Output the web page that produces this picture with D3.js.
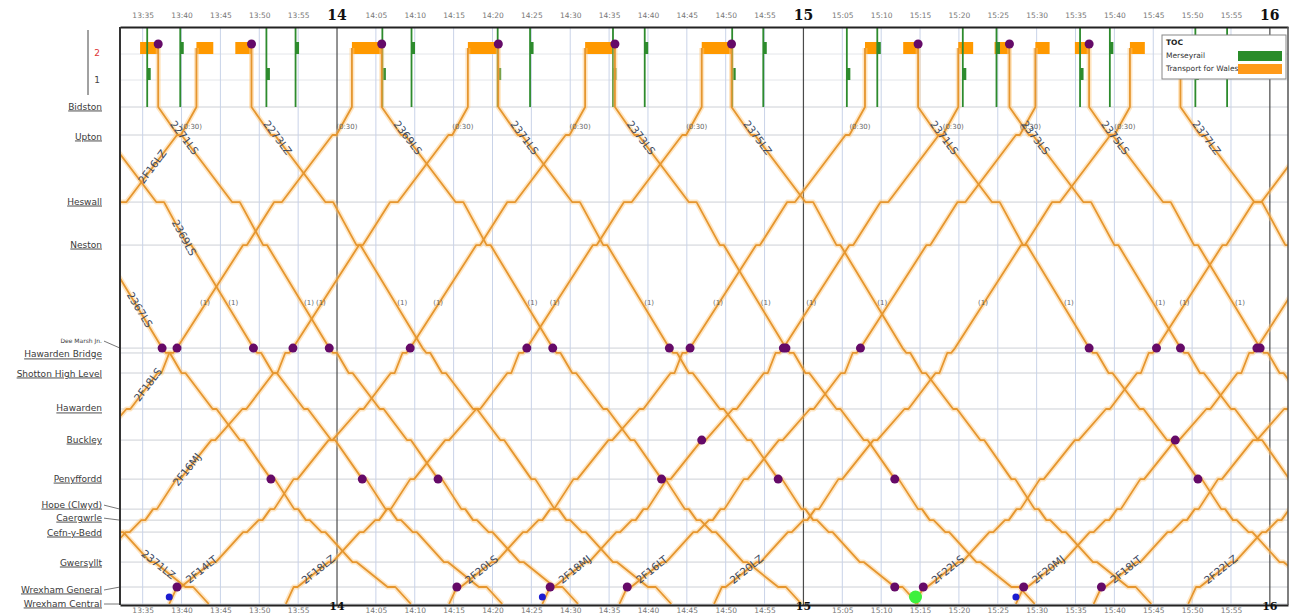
<!DOCTYPE html>
<html lang="en">
<head>
<meta charset="UTF-8">
<title>Bidston - Wrexham Central train graph</title>
<script src="https://d3js.org/d3.v7.min.js"></script>
<style>
    body{margin:0;background:#fff;}
    svg{display:block;font-family:"DejaVu Sans",sans-serif;}
    .axis text{font-size:7.5px;fill:#777;font-family:"DejaVu Sans",sans-serif;}
    .axis .domain{stroke:#222;stroke-width:2;}
    .hour{font-family:"DejaVu Serif",serif;font-weight:bold;font-size:14px;fill:#111;}
    .stn{font-size:9px;fill:#3a3a3a;text-decoration:underline;}
    .hc{font-size:10.5px;fill:#3b4a63;}
    .note{font-size:7px;fill:#666;}
</style>
</head>
<body>
<div id="root"></div>
<script>
    // ---------------- data ----------------
    let stations = ["Bidston","Upton","Heswall","Neston","Dee Marsh Jn.","Hawarden Bridge","Shotton High Level","Hawarden",
        "Buckley","Penyffordd","Hope (Clwyd)","Caergwrle","Cefn-y-Bedd","Gwersyllt","Wrexham General","Wrexham Central"]
    let stationMiles = [0, 1.55, 5.26, 7.64, 13.34, 13.61, 14.72, 16.71, 18.43, 20.59, 22.25, 22.86, 23.52, 25.18, 26.56, 27.5]

    // running times (minutes) per station, same order as stations
    let downArr = [0, 2.5, 9.5, 13.5, 22, 22.5, 24.5, 28.5, 32, 36, 39, 40.5, 42.5, 46.5, 51, 54]
    let downDep = [0, 3, 10.5, 14, 22, 23, 25, 29, 32.5, 36.5, 39.5, 41, 43, 47, 52, 54]
    let upArr = [53.5, 51, 43.5, 39.5, 31, 30, 28.5, 24.5, 20.5, 16, 13, 11.5, 9.5, 5.5, 1, 0]
    let upDep = [53.5, 51.5, 44.5, 40, 31, 30.5, 29, 25, 21, 16.5, 13.5, 12, 10, 6, 1.5, 0]

    // Transport for Wales services
    let downHeadcodes = ["2371LZ","2367LS","2369LS","2271LS","2273LZ","2369LS","2371LS","2373LS","2375LZ","2371LS","2373LS","2375LS","2377LZ"]
    let downStart = ["12:49:30","13:15:30","13:27:15","13:37:00","13:49:00","14:05:45","14:20:45","14:35:45","14:50:45","15:14:45","15:26:30","15:36:45","15:48:30"]
    let upHeadcodes = ["2F16LZ","2F18LS","2F16MJ","2F14LT","2F18LZ","2F20LS","2F18MJ","2F16LT","2F20LZ","2F22LS","2F20MJ","2F18LT","2F22LZ"]
    let upStart = ["12:48:25","13:08:25","13:23:20","13:38:25","13:53:25","14:14:25","14:26:25","14:36:20","14:48:30","15:14:25","15:27:20","15:37:20","15:49:30"]

    // Bidston platform 2 occupation
    let bidstonBlocks = [["13:34:40","13:37:00"],["13:41:55","13:44:05"],["13:46:55","13:49:00"],["14:01:55","14:05:45"],
        ["14:16:50","14:20:45"],["14:31:55","14:35:45"],["14:46:55","14:50:45"],["15:07:55","15:09:50"],["15:12:50","15:14:45"],
        ["15:19:55","15:21:50"],["15:24:35","15:26:30"],["15:29:50","15:31:40"],["15:34:55","15:36:45"],["15:42:00","15:43:55"],
        ["15:46:30","15:48:30"]]

    // Merseyrail calls at Bidston
    let merseyPlat1 = ["13:35:35","13:50:55","14:05:50","14:20:40","14:35:30","14:50:50","15:05:35","15:20:30","15:35:35","15:50:25"]
    let merseyPlat2 = ["13:39:50","13:54:40","14:09:35","14:24:50","14:39:35","14:54:50","15:09:30","15:24:50","15:39:25","15:54:30"]

    // markers: [direction, train index, station, kind]
    let markers = [
        ["down",1,"Dee Marsh Jn.","p"],["down",2,"Dee Marsh Jn.","p"],["down",3,"Dee Marsh Jn.","p"],["down",5,"Dee Marsh Jn.","p"],
        ["down",6,"Dee Marsh Jn.","p"],["down",7,"Dee Marsh Jn.","p"],["down",9,"Dee Marsh Jn.","p"],["down",10,"Dee Marsh Jn.","p"],
        ["down",11,"Dee Marsh Jn.","p"],["up",1,"Dee Marsh Jn.","p"],["up",2,"Dee Marsh Jn.","p"],["up",3,"Dee Marsh Jn.","p"],
        ["up",4,"Dee Marsh Jn.","p"],["up",5,"Dee Marsh Jn.","p"],["up",6,"Dee Marsh Jn.","p"],["up",7,"Dee Marsh Jn.","p"],
        ["up",9,"Dee Marsh Jn.","p"],["up",10,"Dee Marsh Jn.","p"],
        ["down",1,"Penyffordd","p"],["down",2,"Penyffordd","p"],["down",3,"Penyffordd","p"],["down",5,"Penyffordd","p"],
        ["down",6,"Penyffordd","p"],["down",7,"Penyffordd","p"],["down",9,"Penyffordd","p"],
        ["up",6,"Buckley","p"],["up",10,"Buckley","p"],
        ["up",3,"Wrexham General","p"],["up",5,"Wrexham General","p"],["up",6,"Wrexham General","p"],["up",7,"Wrexham General","p"],
        ["down",6,"Wrexham General","p"],["up",9,"Wrexham General","p"],["up",10,"Wrexham General","p"],["up",11,"Wrexham General","p"],
        ["up",3,"Wrexham Central","b"],["up",6,"Wrexham Central","b"],["up",10,"Wrexham Central","b"],["up",9,"Wrexham Central","g"],
        ["down",3,"Bidston","plat"],["down",4,"Bidston","plat"],["down",5,"Bidston","plat"],["down",6,"Bidston","plat"],
        ["down",7,"Bidston","plat"],["down",8,"Bidston","plat"],["down",9,"Bidston","plat"],["down",10,"Bidston","plat"],
        ["down",11,"Bidston","plat"]
    ]

    // ---------------- layout ----------------
    let W = 1297, H = 614
    let plotL = 120, plotR = 1288, plotT = 27, plotB = 605
    let bidstonY = 107, plat2Y = 48, plat1Y = 74
    let labelNudge = {"Upton":2,"Dee Marsh Jn.":-7,"Hawarden Bridge":2,"Shotton High Level":1,"Hope (Clwyd)":-4,
        "Caergwrle":-2,"Cefn-y-Bedd":1,"Gwersyllt":1,"Wrexham General":3}
    let leaders = ["Dee Marsh Jn.","Hope (Clwyd)","Caergwrle","Wrexham General","Wrexham Central"]
    let downLabelY = {0:565, 1:310, 2:238}, upLabelY = {0:167, 1:385, 2:470}

    let parse = d3.timeParse("%H:%M:%S")
    let addMin = (d, m) => new Date(d.getTime() + m * 60000)

    let svg = d3.select("#root").append("svg").attr("width", W).attr("height", H)
    svg.append("rect").attr("width", W).attr("height", H).attr("fill", "#fff")

    let x = d3.scaleTime().domain([parse("13:32:05"), parse("16:02:20")]).range([plotL, plotR])
    let y = d3.scaleLinear().domain([0, 27.5]).range([bidstonY, 604])

    svg.append("clipPath").attr("id", "plot").append("rect")
        .attr("x", plotL).attr("y", plotT).attr("width", plotR - plotL).attr("height", plotB - plotT)

    // grid
    let fiveMin = x.ticks(d3.timeMinute.every(5))
    svg.append("g").selectAll("line").data(stationMiles).join("line")
        .attr("x1", plotL).attr("x2", plotR).attr("y1", d => y(d)).attr("y2", d => y(d))
        .attr("stroke", "#cdd0d6").attr("stroke-width", 1)
    svg.append("g").selectAll("line").data([plat2Y + 6, plat1Y + 6]).join("line")
        .attr("x1", plotL).attr("x2", plotR).attr("y1", d => d).attr("y2", d => d)
        .attr("stroke", "#e4e6ea").attr("stroke-width", 1)
    svg.append("g").selectAll("line").data(fiveMin).join("line")
        .attr("x1", d => x(d)).attr("x2", d => x(d)).attr("y1", plotT).attr("y2", plotB)
        .attr("stroke", d => d.getMinutes() === 0 ? "#4a4a4a" : "#c9d3e8")
        .attr("stroke-width", d => d.getMinutes() === 0 ? 1.2 : 1)

    // trains
    function buildTrain(dir, hc, start, i) {
        let t0 = parse(start)
        let order = dir === "down" ? d3.range(stations.length) : d3.range(stations.length - 1, -1, -1)
        let arr = dir === "down" ? downArr : upArr, dep = dir === "down" ? downDep : upDep
        let stops = order.map(j => ({j, arr: addMin(t0, arr[j]), dep: addMin(t0, dep[j])}))
        let pts = []
        stops.forEach(s => {
            pts.push([x(s.arr), y(stationMiles[s.j])])
            if (+s.dep !== +s.arr) pts.push([x(s.dep), y(stationMiles[s.j])])
        })
        if (dir === "down") pts.unshift([x(stops[0].dep), plat2Y])
        else pts.push([x(stops[stops.length - 1].arr), plat2Y])
        return {dir, hc, i, stops, pts}
    }
    let trains = downHeadcodes.map((hc, i) => buildTrain("down", hc, downStart[i], i))
        .concat(upHeadcodes.map((hc, i) => buildTrain("up", hc, upStart[i], i)))
    let findTrain = (dir, i) => trains.find(t => t.dir === dir && t.i === i)

    // x position of a train at pixel height yy, plus running angle
    function trainAt(t, yy) {
        for (let k = 0; k < t.stops.length - 1; k++) {
            let a = t.stops[k], b = t.stops[k + 1]
            let ya = y(stationMiles[a.j]), yb = y(stationMiles[b.j])
            if ((yy - ya) * (yy - yb) <= 0 && ya !== yb) {
                let xa = x(a.dep), xb = x(b.arr)
                let f = (yy - ya) / (yb - ya)
                return {x: xa + f * (xb - xa), angle: Math.atan2(yb - ya, xb - xa) * 180 / Math.PI}
            }
        }
        return null
    }
    let inside = (px, pad) => px > plotL + pad && px < plotR - pad

    let plot = svg.append("g").attr("clip-path", "url(#plot)")

    // Bidston platform blocks
    plot.append("g").selectAll("rect").data(bidstonBlocks).join("rect")
        .attr("x", d => x(parse(d[0]))).attr("width", d => x(parse(d[1])) - x(parse(d[0])))
        .attr("y", plat2Y - 6).attr("height", 12).attr("fill", "#ff9900")

    // Merseyrail
    let mersey = merseyPlat1.map(t => ({t: parse(t), row: plat1Y})).concat(merseyPlat2.map(t => ({t: parse(t), row: plat2Y})))
    let mg = plot.append("g")
    mg.selectAll("line").data(mersey).join("line")
        .attr("x1", d => x(d.t)).attr("x2", d => x(d.t)).attr("y1", plotT).attr("y2", bidstonY)
        .attr("stroke", "#2d8b2d").attr("stroke-width", 1.8)
    mg.selectAll("rect").data(mersey).join("rect")
        .attr("x", d => x(d.t)).attr("width", 3.5).attr("y", d => d.row - 6).attr("height", 12)
        .attr("fill", "#2d8b2d")

    let line = d3.line()
    plot.append("g").selectAll("path").data(trains).join("path")
        .attr("d", d => line(d.pts)).attr("fill", "none")
        .attr("stroke", "#ffc87a").attr("stroke-width", 5).attr("stroke-opacity", 0.45)
        .attr("stroke-linejoin", "round")
    plot.append("g").selectAll("path").data(trains).join("path")
        .attr("d", d => line(d.pts)).attr("fill", "none")
        .attr("stroke", "#e5962f").attr("stroke-width", 1.8).attr("stroke-linejoin", "round")

    // notes on the lines
    let notes = plot.append("g"), placed = []
    trains.forEach(t => {
        let p = trainAt(t, 303)
        if (p && !(t.dir === "down" && downLabelY[t.i] === 310)) {
            let nx = p.x + (t.dir === "down" ? 7 : -1)
            if (inside(nx, 8) && !placed.some(v => Math.abs(v - nx) < 10)) {
                placed.push(nx)
                notes.append("text").attr("class", "note").attr("x", nx).attr("y", 303)
                    .attr("text-anchor", "middle").attr("dominant-baseline", "middle").text("(1)")
            }
        }
        if (t.dir === "up") {
            let xa = x(t.stops[t.stops.length - 1].arr) - 5
            if (inside(xa, 14)) notes.append("text").attr("class", "note").attr("x", xa).attr("y", 127)
                .attr("text-anchor", "middle").attr("dominant-baseline", "middle").text("(0:30)")
        }
    })

    // headcodes
    let hcg = plot.append("g")
    trains.forEach(t => {
        let yy = t.dir === "down" ? (downLabelY[t.i] || 138) : (upLabelY[t.i] || 570)
        let p = trainAt(t, yy)
        if (!p || !inside(p.x, 10)) return
        hcg.append("text").attr("class", "hc")
            .attr("transform", `translate(${p.x},${yy}) rotate(${p.angle})`)
            .attr("text-anchor", "middle").attr("dominant-baseline", "middle").text(t.hc)
    })

    // markers
    let colours = {p: "#650a68", plat: "#650a68", b: "#1c1cd0", g: "#3df03d"}
    let radius = {p: 4.5, plat: 4.5, b: 3.5, g: 6.5}
    plot.append("g").selectAll("circle").data(markers).join("circle")
        .attr("cx", d => {
            let s = findTrain(d[0], d[1]).stops.find(s => stations[s.j] === d[2])
            return x(d[3] === "plat" ? s.dep : s.arr)
        })
        .attr("cy", d => d[3] === "plat" ? plat2Y - 4 : y(stationMiles[stations.indexOf(d[2])]) - (d[3] === "b" || d[3] === "g" ? 7 : 0))
        .attr("r", d => radius[d[3]]).attr("fill", d => colours[d[3]])

    // station labels
    let sg = svg.append("g")
    stations.forEach((s, i) => {
        let sy = y(stationMiles[i]), ly = sy + (labelNudge[s] || 0)
        let small = s === "Dee Marsh Jn."
        sg.append("text").attr("class", "stn").attr("x", 102).attr("y", ly)
            .attr("text-anchor", "end").attr("dominant-baseline", "middle")
            .style("font-size", small ? "6px" : null).style("text-decoration", small ? "none" : null).text(s)
        if (leaders.includes(s)) sg.append("line").attr("x1", 104).attr("y1", ly).attr("x2", plotL).attr("y2", sy)
            .attr("stroke", "#555").attr("stroke-width", 0.8)
    })

    // platform axis
    svg.append("line").attr("x1", 88).attr("x2", 88).attr("y1", 30).attr("y2", 95).attr("stroke", "#444")
    svg.append("text").attr("x", 97).attr("y", 53).attr("text-anchor", "middle").attr("dominant-baseline", "middle")
        .style("font-size", "9px").attr("fill", "#d33").text("2")
    svg.append("text").attr("x", 97).attr("y", 80).attr("text-anchor", "middle").attr("dominant-baseline", "middle")
        .style("font-size", "9px").attr("fill", "#444").text("1")

    // axes
    let fmt = d => d.getMinutes() === 0 ? "" : d3.timeFormat("%H:%M")(d)
    svg.append("g").attr("class", "axis").attr("transform", `translate(0,${plotT})`)
        .call(d3.axisTop(x).ticks(d3.timeMinute.every(5)).tickSize(0).tickSizeOuter(0).tickPadding(9).tickFormat(fmt))
    svg.append("g").attr("class", "axis").attr("transform", `translate(0,${plotB})`)
        .call(d3.axisBottom(x).ticks(d3.timeMinute.every(5)).tickSize(0).tickSizeOuter(0).tickPadding(3).tickFormat(fmt))
    let hours = x.ticks(d3.timeHour.every(1))
    svg.append("g").selectAll("text").data(hours).join("text").attr("class", "hour")
        .attr("x", d => x(d)).attr("y", 20).attr("text-anchor", "middle").text(d => d.getHours())
    svg.append("g").selectAll("text").data(hours).join("text").attr("class", "hour")
        .attr("x", d => x(d)).attr("y", 610).attr("text-anchor", "middle").style("font-size", "11px").text(d => d.getHours())
    svg.append("line").attr("x1", plotL).attr("x2", plotL).attr("y1", plotT).attr("y2", plotB).attr("stroke", "#333").attr("stroke-width", 2)
    svg.append("line").attr("x1", plotR).attr("x2", plotR).attr("y1", plotT).attr("y2", plotB).attr("stroke", "#555").attr("stroke-width", 1.5)

    // legend
    let lg = svg.append("g").attr("transform", "translate(1162,35)")
    lg.append("rect").attr("width", 124).attr("height", 44).attr("fill", "#fff").attr("stroke", "#888")
    lg.append("text").attr("x", 4).attr("y", 10).style("font-size", "7.5px").style("font-weight", "bold").attr("fill", "#222").text("TOC")
    lg.append("text").attr("x", 4).attr("y", 23).style("font-size", "7.5px").attr("fill", "#333").text("Merseyrail")
    lg.append("text").attr("x", 4).attr("y", 36).style("font-size", "7.5px").attr("fill", "#333").text("Transport for Wales")
    lg.append("rect").attr("x", 76).attr("y", 16).attr("width", 44).attr("height", 10).attr("fill", "#2a8c2a")
    lg.append("rect").attr("x", 76).attr("y", 29).attr("width", 44).attr("height", 10).attr("fill", "#ff9a1a")
</script>
</body>
</html>
